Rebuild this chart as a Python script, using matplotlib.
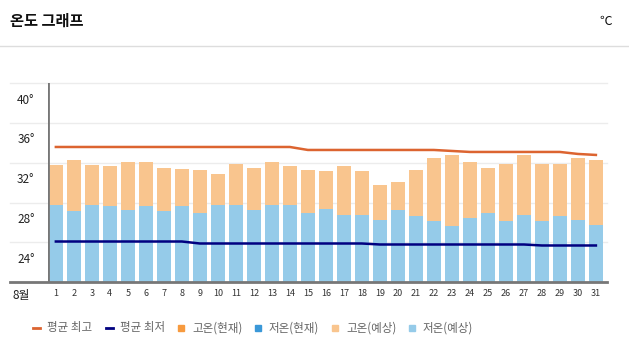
import matplotlib
matplotlib.use("Agg")
import matplotlib.pyplot as plt
from matplotlib.lines import Line2D
from matplotlib.patches import Rectangle
from matplotlib.transforms import ScaledTranslation

plt.rcParams['font.family'] = ['Noto Sans CJK KR', 'DejaVu Sans']

days = list(range(1, 32))
high_fc = [33.8, 34.3, 33.8, 33.7, 34.1, 34.1, 33.5, 33.4, 33.3, 32.9,
           33.9, 33.5, 34.1, 33.7, 33.3, 33.2, 33.7, 33.2, 31.8, 32.1,
           33.3, 34.5, 34.8, 34.1, 33.5, 33.9, 34.8, 33.9, 33.9, 34.5, 34.3]
low_fc = [29.8, 29.2, 29.8, 29.7, 29.3, 29.7, 29.2, 29.7, 29.0, 29.8,
          29.8, 29.3, 29.8, 29.8, 29.0, 29.4, 28.8, 28.8, 28.3, 29.3,
          28.7, 28.2, 27.7, 28.5, 29.0, 28.2, 28.8, 28.2, 28.7, 28.3, 27.8]
avg_high = [35.6] * 14 + [35.3] * 8 + [35.2, 35.1, 35.1, 35.1, 35.1, 35.1, 35.1, 34.9, 34.8]
avg_low = [26.1] * 8 + [25.9] * 10 + [25.8] * 9 + [25.7] * 4

y_labels = [24, 28, 32, 36, 40]
grid_vals = [22, 26, 30, 34, 38, 42]
legend_labels = ["평균 최고", "평균 최저", "고온(현재)", "저온(현재)", "고온(예상)", "저온(예상)"]

c_high_line = "#dc6430"
c_low_line = "#000080"
c_high_now = "#f79a3e"
c_low_now = "#3a98d8"
c_high_fc = "#f9c58e"
c_low_fc = "#95cbe9"

fig = plt.figure(figsize=(6.29, 3.54), dpi=100)
ax = fig.add_axes([48.3 / 629, 71.7 / 354, 558.4 / 629, 199 / 354])

ax.bar(days, high_fc, width=0.8, color=c_high_fc, zorder=2)
ax.bar(days, low_fc, width=0.8, color=c_low_fc, zorder=2)
ax.plot(days, avg_high, color=c_high_line, linewidth=1.8, zorder=3)
ax.plot(days, avg_low, color=c_low_line, linewidth=1.8, zorder=3)

ax.set_xlim(0.58, 31.6)
ax.set_ylim(22, 42)

# horizontal grid lines reaching into the label area
for g in grid_vals[1:]:
    ax.axhline(g, xmin=-0.069, xmax=1, color="#ececec", linewidth=1, zorder=1, clip_on=False)
ax.axhline(22, xmin=-0.069, xmax=1, color="#777777", linewidth=2, zorder=4, clip_on=False)
ax.axvline(0.58, color="#777777", linewidth=2, zorder=4)

for s in ax.spines.values():
    s.set_visible(False)

ax.set_yticks(y_labels)
ax.set_yticklabels([f"{v}°" for v in y_labels], fontsize=8.5, color="#222222")
ax.tick_params(axis="y", length=0, pad=10)
# labels sit a little above their value in the original
shift = ScaledTranslation(0, 4.5 / 100, fig.dpi_scale_trans)
for lab in ax.get_yticklabels():
    lab.set_transform(lab.get_transform() + shift)
ax.set_xticks(days)
ax.set_xticklabels([str(d) for d in days], fontsize=6.5, color="#333333")
ax.tick_params(axis="x", length=0, pad=5)

fig.text(13 / 629, 1 - 296 / 354, "8월", fontsize=8.5, color="#222222", va="center")

# header
fig.text(10 / 629, 1 - 21 / 354, "온도 그래프", fontsize=11, fontweight="bold", color="#111111", va="center")
fig.text(612 / 629, 1 - 21 / 354, "℃", fontsize=9, color="#111111", va="center", ha="right")
fig.add_artist(Line2D([0, 1], [1 - 46 / 354, 1 - 46 / 354], color="#dddddd", linewidth=1))

# legend
ly = 1 - 328 / 354
marks = [("line", c_high_line, 33), ("line", c_low_line, 106), ("sq", c_high_now, 178),
         ("sq", c_low_now, 255), ("sq", c_high_fc, 332), ("sq", c_low_fc, 409)]
for (kind, col, px), lab in zip(marks, legend_labels):
    if kind == "line":
        fig.add_artist(Line2D([px / 629, (px + 7) / 629], [ly, ly], color=col, linewidth=2))
    else:
        fig.add_artist(Rectangle((px / 629, ly - 3 / 354), 6 / 629, 6 / 354, color=col,
                                 transform=fig.transFigure))
    fig.text((px + 14) / 629, ly, lab, fontsize=8.3, color="#666666", va="center")

fig.savefig("out.png", dpi=100)
